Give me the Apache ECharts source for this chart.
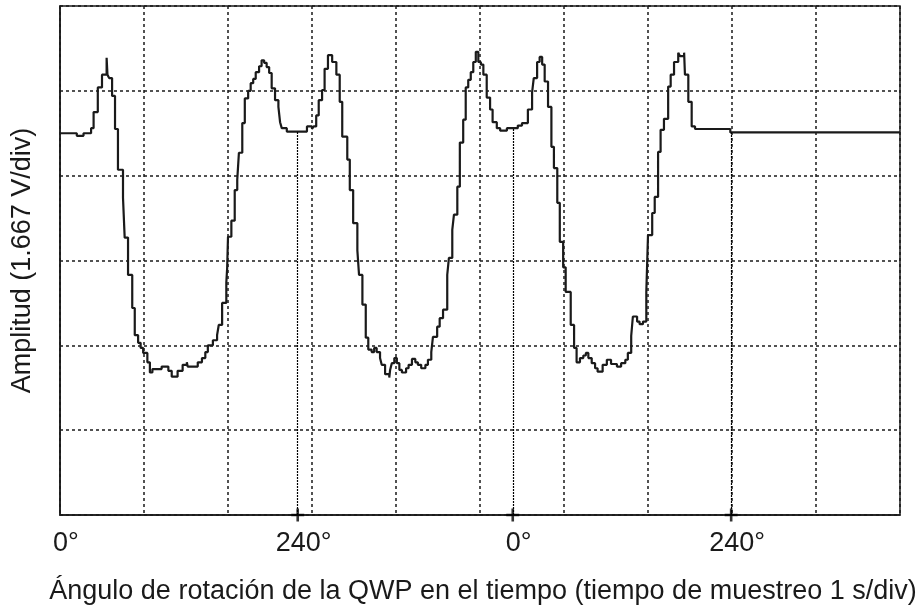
<!DOCTYPE html>
<html>
<head>
<meta charset="utf-8">
<script src="https://cdn.jsdelivr.net/npm/echarts@6/dist/echarts.min.js"></script>
<style>
  html, body { margin: 0; padding: 0; background: #fff; }
  #chart { width: 917px; height: 606px; }
</style>
</head>
<body>
<div id="chart"></div>
<script>
// time in divisions (1 s/div), amplitude in divisions (1.667 V/div)
// each point starts a flat step of the scope trace
const traceTime = [
  0, 0.20, 0.28, 0.37, 0.40, 0.45, 0.50, 0.555, 0.565, 0.585, 0.62, 0.655, 0.69, 0.75, 0.77, 0.81,
  0.86, 0.89, 0.93, 0.96, 0.99, 1.04, 1.07, 1.10, 1.21, 1.29, 1.33, 1.40, 1.46, 1.51, 1.52, 1.64,
  1.69, 1.73, 1.76, 1.82, 1.87, 1.89, 1.93, 1.98, 1.99, 2.00, 2.04, 2.08, 2.11, 2.13, 2.17, 2.20,
  2.24, 2.27, 2.30, 2.33, 2.37, 2.40, 2.43, 2.46, 2.49, 2.52, 2.56, 2.60, 2.62, 2.64, 2.70, 2.94,
  3.00, 3.02, 3.05, 3.08, 3.12, 3.15, 3.19, 3.24, 3.29, 3.33, 3.36, 3.42, 3.45, 3.49, 3.54, 3.56,
  3.60, 3.64, 3.67, 3.71, 3.74, 3.77, 3.81, 3.83, 3.87, 3.92, 3.93, 3.95, 3.98, 4.01, 4.04, 4.07,
  4.12, 4.15, 4.19, 4.23, 4.26, 4.30, 4.35, 4.38, 4.42, 4.44, 4.49, 4.52, 4.56, 4.61, 4.63, 4.67,
  4.69, 4.73, 4.76, 4.80, 4.83, 4.86, 4.89, 4.92, 4.95, 4.98, 5.01, 5.04, 5.08, 5.12, 5.15, 5.20,
  5.24, 5.32, 5.45, 5.50, 5.57, 5.62, 5.64, 5.68, 5.71, 5.74, 5.77, 5.81, 5.85, 5.88, 5.92, 5.95,
  5.99, 6.02, 6.08, 6.12, 6.15, 6.19, 6.23, 6.26, 6.29, 6.33, 6.37, 6.40, 6.46, 6.51, 6.56, 6.63,
  6.68, 6.73, 6.76, 6.80, 6.82, 6.87, 6.90, 6.94, 6.98, 7.00, 7.05, 7.08, 7.12, 7.15, 7.19, 7.24,
  7.27, 7.31, 7.36, 7.38, 7.43, 7.44, 7.48, 7.52, 7.56, 7.98, 10
]
const traceAmp = [
  4.50, 4.47, 4.50, 4.56, 4.75, 5.04, 5.19, 5.39, 5.19, 5.15, 4.94, 4.55, 4.07, 3.74, 3.27, 2.83,
  2.44, 2.12, 2.03, 1.97, 1.91, 1.80, 1.68, 1.72, 1.75, 1.70, 1.63, 1.70, 1.77, 1.80, 1.75, 1.80,
  1.85, 1.92, 2.00, 2.06, 2.12, 2.24, 2.50, 2.74, 2.91, 3.28, 3.47, 3.83, 3.95, 4.27, 4.62, 4.91,
  5.00, 5.09, 5.14, 5.22, 5.29, 5.36, 5.33, 5.28, 5.21, 5.03, 4.89, 4.81, 4.63, 4.56, 4.52, 4.58,
  4.55, 4.58, 4.71, 4.89, 5.01, 5.26, 5.42, 5.34, 5.19, 4.87, 4.46, 4.19, 3.83, 3.44, 3.12, 2.83,
  2.48, 2.09, 1.95, 1.92, 1.97, 1.92, 1.85, 1.77, 1.66, 1.62, 1.71, 1.79, 1.85, 1.79, 1.71, 1.68,
  1.73, 1.77, 1.84, 1.80, 1.77, 1.73, 1.77, 1.83, 1.92, 2.10, 2.22, 2.32, 2.42, 2.83, 3.03, 3.36,
  3.54, 3.87, 4.39, 4.66, 5.04, 5.13, 5.22, 5.34, 5.46, 5.34, 5.31, 5.19, 4.92, 4.78, 4.63, 4.56,
  4.53, 4.56, 4.59, 4.62, 4.78, 4.98, 5.15, 5.34, 5.40, 5.31, 5.11, 4.81, 4.34, 4.09, 3.68, 3.22,
  2.92, 2.63, 2.24, 1.97, 1.80, 1.85, 1.88, 1.91, 1.85, 1.79, 1.73, 1.69, 1.77, 1.83, 1.78, 1.75,
  1.79, 1.83, 1.91, 2.11, 2.34, 2.28, 2.25, 2.28, 2.63, 3.30, 3.56, 3.75, 4.28, 4.54, 4.67, 5.05,
  5.19, 5.34, 5.45, 5.41, 5.45, 5.19, 4.87, 4.58, 4.55, 4.51, 4.51
]

// angle markers along the time axis
const markerTime = [2.83, 5.39, 7.99]
const markerTop = [4.52, 4.56, 4.51]
const labelTime = [0, 2.83, 5.39, 7.99]
const labelText = ['0°', '240°', '0°', '240°']

const ink = '#1a1a1a'
const font = "'Liberation Sans', Arial, sans-serif"

const chart = echarts.init(document.getElementById('chart'))

const option = {
  animation: false,
  backgroundColor: '#fff',
  grid: {
    left: 60, right: 17, top: 6, bottom: 91,
    outerBoundsMode: 'none',
    containLabel: false,
    show: true, borderColor: ink, borderWidth: 1.5, backgroundColor: '#fff'
  },
  xAxis: {
    type: 'value',
    min: 0, max: 10, interval: 1,
    name: 'Ángulo de rotación de la QWP en el tiempo (tiempo de muestreo 1 s/div)',
    nameLocation: 'middle',
    nameGap: 63,
    nameTextStyle: { fontFamily: font, fontSize: 27, color: ink, padding: [0, 0, 0, 6] },
    axisLine: { lineStyle: { color: ink, width: 1.5 } },
    axisTick: { show: false },
    splitLine: { show: true, lineStyle: { color: ink, width: 1.5, type: [3, 3] } },
    axisLabel: {
      customValues: labelTime,
      margin: 15,
      padding: [0, 0, 0, 12],
      fontFamily: font, fontSize: 27, color: ink,
      formatter: function (v) {
        let best = 0
        labelTime.forEach(function (t, i) {
          if (Math.abs(t - v) < Math.abs(labelTime[best] - v)) best = i
        })
        return labelText[best]
      }
    }
  },
  yAxis: {
    type: 'value',
    min: 0, max: 6, interval: 1,
    name: 'Amplitud (1.667 V/div)',
    nameLocation: 'middle',
    nameGap: 24,
    nameTextStyle: { fontFamily: font, fontSize: 27, color: ink },
    axisLine: { show: true, lineStyle: { color: ink, width: 1.5 } },
    axisTick: { show: false },
    axisLabel: { show: false },
    splitLine: { show: true, lineStyle: { color: ink, width: 1.5, type: [3, 3] } }
  },
  series: [
    {
      type: 'line',
      step: 'end',
      symbol: 'none',
      data: traceTime.map(function (t, i) { return [t, traceAmp[i]] }),
      lineStyle: { color: ink, width: 2.2 },
      markLine: {
        silent: true,
        symbol: ['none', 'none'],
        label: { show: false },
        lineStyle: { color: '#000', width: 1.2, type: [2, 1] },
        data: markerTime.map(function (t, i) {
          return [{ coord: [t, 0] }, { coord: [t, markerTop[i]] }]
        })
      }
    },
    {
      type: 'scatter',
      clip: false,
      z: 5,
      symbol: 'path://M4,0h2v4h4v2h-4v4h-2v-4h-4v-2h4z',
      symbolSize: 13,
      itemStyle: { color: '#000' },
      data: markerTime.map(function (t) { return [t, 0] })
    }
  ]
}

chart.setOption(option)
</script>
</body>
</html>
